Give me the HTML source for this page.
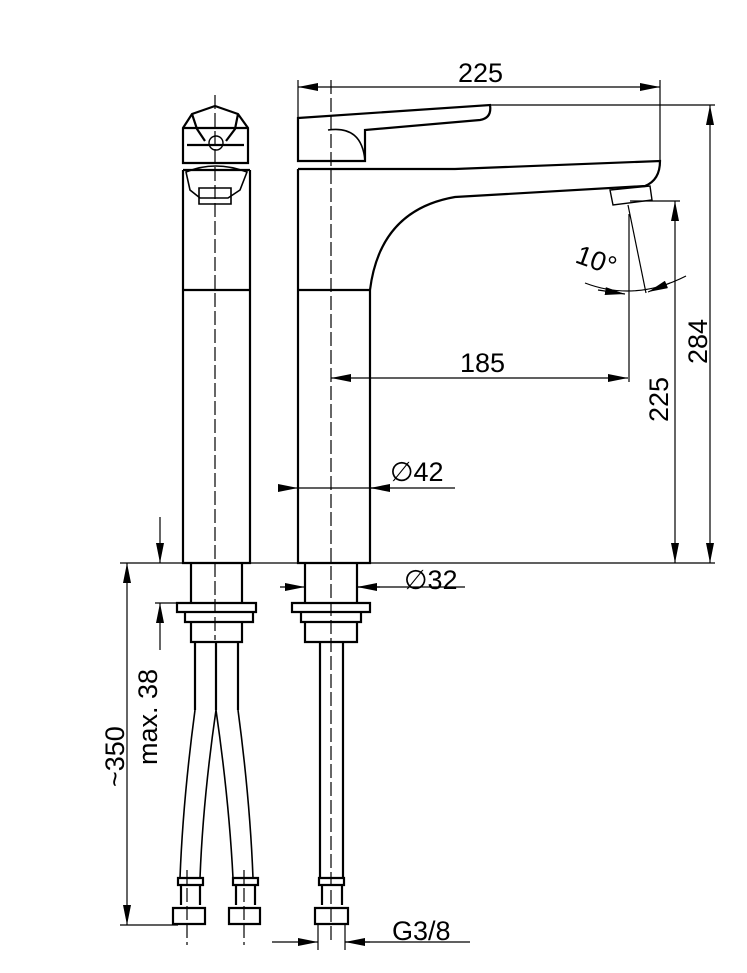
<!DOCTYPE html>
<html><head><meta charset="utf-8"><style>html,body{margin:0;padding:0;background:#fff}svg{display:block}text{font-family:"Liberation Sans",sans-serif;font-size:27px;fill:#000}</style></head><body>
<svg width="747" height="973" viewBox="0 0 747 973" xmlns="http://www.w3.org/2000/svg">
<defs><marker id="a" viewBox="0 0 20 8" refX="20" refY="4" markerWidth="20" markerHeight="8" markerUnits="userSpaceOnUse" orient="auto-start-reverse"><path d="M0,0L20,4L0,8z" fill="#000"/></marker></defs>
<g fill="none" stroke="#000" stroke-width="2.2">
<!-- left view -->
<path d="M183,163V128L192,114L215,106L238,114L248,128V163Z"/>
<path d="M183,128H248M192,114L197,129L205,141M238,114L235,129L226,141M187,145H244"/>
<circle cx="216" cy="143" r="7" stroke-width="1.4"/>
<path d="M183,170H250M183,170V563H250V170M183,290H250"/>
<path d="M186,172Q215,160 247,172L240,190L228,198H200L190,190Z" stroke-width="1.6"/>
<path d="M199,188H231V204H199Z" stroke-width="1.6"/>
<!-- right view -->
<path d="M298,169V563H370V290M298,290H370"/>
<path d="M298,169H455L660,161Q660,180 645,186L455,197Q380,210 370,290"/>
<path d="M298,118L490,105Q492,118 480,120L365,130V161H298Z M298,118V161"/>
<path d="M328,130Q362,125 365,161" stroke-width="1.6"/>
<path d="M610,190L650,186L652,200L613,205Z" stroke-width="1.4"/>
<!-- fittings left -->
<path d="M191,563V603H242V563M177,603H256V612H177ZM185,612H253V622H185ZM191,622V642H242V622M195,642V710M238,642V710M216,642V710"/>
<path d="M195,710Q183,800 180,878M216,710Q203,800 200,878M216,710Q229,800 233,878M238,710Q250,800 253,878" stroke-width="1.6"/>
<path d="M178,878H203V885H178ZM233,878H258V885H233ZM181,885V905M200,885V905M236,885V905M255,885V905M173,908H205V924H173ZM229,908H260V924H229Z"/>
<!-- fittings right -->
<path d="M305,563V603H357V563M292,603H370V612H292ZM301,612H361V622H301ZM305,622V642H357V622M320,642V878M343,642V878M319,878H344V885H319ZM322,885V905M342,885V905M315,908H348V924H315Z"/>
</g>
<!-- centerlines -->
<g stroke="#000" stroke-width="1.2" stroke-dasharray="14,4" fill="none">
<path d="M215,95V640M331,80V940M187,870V945M244,870V945"/>
</g>
<!-- dimension lines -->
<g stroke="#000" stroke-width="1.2" fill="none">
<path d="M298,80V118M660,80V160M490,105H715M120,563H715M630,201H680M629,214V382M628,205L646,293M585,283Q635,302 686,276"/>
<path d="M298,87H660" marker-start="url(#a)" marker-end="url(#a)"/>
<path d="M710,105V563" marker-start="url(#a)" marker-end="url(#a)"/>
<path d="M675,201V563" marker-start="url(#a)" marker-end="url(#a)"/>
<path d="M331,378H628" marker-start="url(#a)" marker-end="url(#a)"/>
<path d="M278,488H298" marker-end="url(#a)"/><path d="M298,488H455" /><path d="M390,488H370" marker-end="url(#a)"/>
<path d="M280,587H305" marker-end="url(#a)"/><path d="M380,587H357" marker-end="url(#a)"/><path d="M357,587H465"/>
<path d="M127,563V925" marker-start="url(#a)" marker-end="url(#a)"/><path d="M120,925H178"/>
<path d="M160,517V563" marker-end="url(#a)"/><path d="M160,650V603" marker-end="url(#a)"/><path d="M155,603H180"/>
<path d="M272,942H318" marker-end="url(#a)"/><path d="M370,942H345" marker-end="url(#a)"/><path d="M345,942H470M318,925V950M345,925V950"/>
<path d="M598,290L625,294" marker-end="url(#a)"/><path d="M670,283L648,292" marker-end="url(#a)"/>
</g>
<text x="458" y="82">225</text>
<text x="460" y="372">185</text>
<text x="390" y="481">∅42</text>
<text x="404" y="589">∅32</text>
<text x="392" y="940">G3/8</text>
<text transform="translate(574,262) rotate(20)">10°</text>
<text transform="translate(707,364) rotate(-90)">284</text>
<text transform="translate(668,422) rotate(-90)">225</text>
<text transform="translate(124,787) rotate(-90)">~350</text>
<text transform="translate(157,765) rotate(-90)">max. 38</text>
</svg>
</body></html>
